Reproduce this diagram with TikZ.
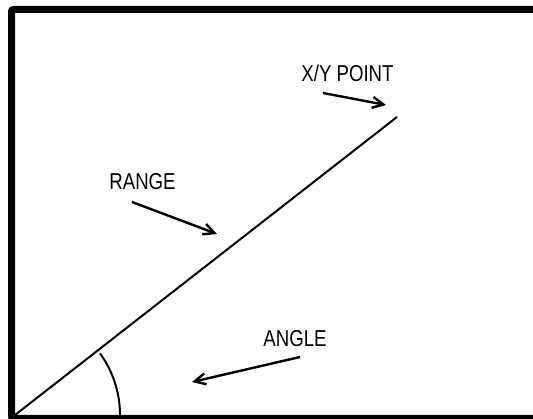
\documentclass[tikz,border=0pt]{standalone}
\usepackage{fontspec}
\setmainfont{Liberation Sans}
\usetikzlibrary{arrows.meta}
\begin{document}
\begin{tikzpicture}[x=1pt,y=-1pt,
  lbl/.style={inner sep=0pt, anchor=base, font=\fontsize{23}{23}\selectfont},
  pointer/.style={line width=2.4pt, -{Straight Barb[length=11pt,width=11pt,line width=2.4pt]}},
  frame/.style={line width=7pt, rounded corners=2pt},
  thinline/.style={line width=2pt}]
\useasboundingbox (0,0) rectangle (533,419);
\clip (0,0) rectangle (533,419);
\draw[frame] (11.5,9.5) rectangle (545,418.5);
% range line
\coordinate (o) at (15,415);
\coordinate (p) at (397,117);
\draw[thinline] (o) -- (p);
% angle arc
\draw[thinline] (120,415) arc[start angle=0, end angle=-36, radius=105];
% labels
\node[lbl] (xy) at (347.5,81.7) {\scalebox{0.81}[1]{X/Y POINT}};
\node[lbl] (range) at (142.5,189.3) {\scalebox{0.81}[1]{RANGE}};
\node[lbl] (angle) at (295,347) {\scalebox{0.81}[1]{ANGLE}};
% pointers
\coordinate (xys) at (323,93);
\coordinate (xye) at (386,105);
\coordinate (rs) at (132,202);
\coordinate (re) at (217,234);
\coordinate (as) at (300,357);
\coordinate (ae) at (192,382);
\draw[pointer] (xys) -- (xye);
\draw[pointer] (rs) -- (re);
\draw[pointer] (as) -- (ae);
\end{tikzpicture}
\end{document}
